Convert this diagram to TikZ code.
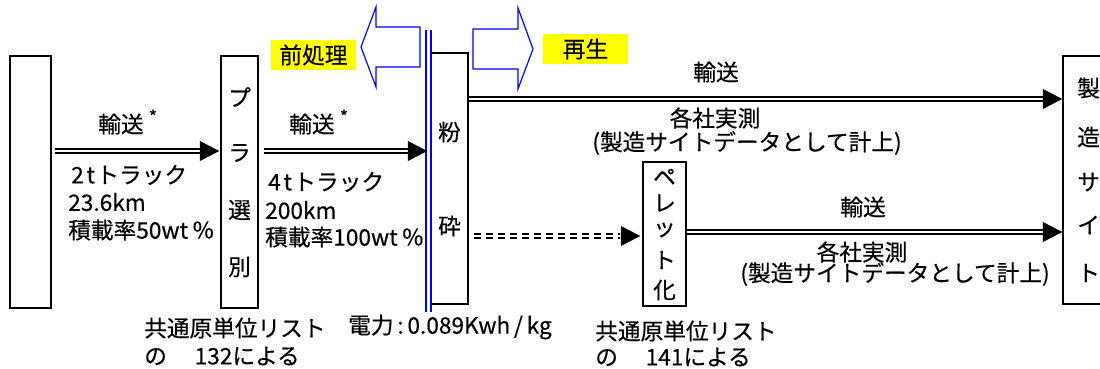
\documentclass[tikz,border=0pt]{standalone}
\usepackage{fontspec}
\setmainfont{Noto Sans CJK JP}[FakeBold=0.4]
\usetikzlibrary{decorations.markings}
\definecolor{hl}{RGB}{255,255,0}
\definecolor{bl}{RGB}{0,0,255}
\begin{document}
\begin{tikzpicture}[x=0.75pt,y=-0.75pt,
  every node/.style={inner sep=0pt, font=\fontsize{17}{20}\selectfont},
  box/.style={draw, line width=1.1pt, inner sep=0pt},
  ch/.style={anchor=center},
  lbl/.style={anchor=west},
  tag/.style={fill=hl, minimum width=63.75pt, minimum height=22.5pt},
  tip/.style={postaction={decorate, decoration={markings,
      mark=at position 1 with {\fill[black] (0,0) -- (-14.5pt,7.5pt) -- (-14.5pt,-7.5pt) -- cycle;}}}},
  dbl/.style={draw, line width=1.4pt, double=white, double distance=1.6pt, shorten >=9pt, tip},
  dbldash/.style={draw, line width=1.6pt, double=white, double distance=1.4pt, dash pattern=on 5.2pt off 3.8pt, shorten >=15pt, tip},
  blueline/.style={draw=bl, line width=1.1pt}
]
\useasboundingbox (0,0) rectangle (1100,368);
\clip (0,0) rectangle (1100,368);

% boxes
\node[box, minimum width=30.75pt, minimum height=189pt] (src) at (30.5,182) {};
\node[box, minimum width=27.75pt, minimum height=189pt] (sel) at (239.5,182) {};
\node[box, minimum width=27.75pt, minimum height=188.25pt] (crush) at (449.5,178.5) {};
\node[box, minimum width=32.25pt, minimum height=108pt] (pel) at (664.5,234) {};
\node[box, minimum width=50.25pt, minimum height=186pt] (site) at (1096.5,180) {};

% box texts
\node[ch] (s1) at (239.5,97) {プ};
\node[ch] (s2) at (239.5,153) {ラ};
\node[ch] (s3) at (239.5,210) {選};
\node[ch] (s4) at (239.5,267) {別};
\node[ch] (c1) at (449.5,132) {粉};
\node[ch] (c2) at (449.5,226) {砕};
\node[ch] (p1) at (664.5,177) {ペ};
\node[ch] (p2) at (664.5,203) {レ};
\node[ch] (p3) at (664.5,230) {ッ};
\node[ch] (p4) at (664.5,260) {ト};
\node[ch] (p5) at (664.5,290) {化};
\node[lbl] (m1) at (1077,88) {製};
\node[lbl] (m2) at (1077,137) {造};
\node[lbl] (m3) at (1077,182) {サ};
\node[lbl] (m4) at (1077,225) {イ};
\node[lbl] (m5) at (1077,273) {ト};

% blue separator and arrows
\draw[blueline] (426,30) -- (426,312);
\draw[blueline] (431,30) -- (431,312);
\draw[draw=bl, line width=0.9pt] (420,27) -- (376,27) -- (376,7) -- (361,47) -- (376,87) -- (376,67) -- (420,67) -- cycle;
\draw[draw=bl, line width=0.9pt] (473,29) -- (518,29) -- (518,8) -- (533,49) -- (518,89) -- (518,69) -- (473,69) -- cycle;
\node[tag] (pre) at (313.5,55) {前処理};
\node[tag] (regen) at (585.5,49) {再生};

% connectors
\draw[dbl] ([xshift=2.25pt]src.east |- 0,151) -- ([xshift=-0.75pt]sel.west |- 0,151);
\draw[dbl] ([xshift=3.75pt]sel.east |- 0,151) -- ([xshift=-2.25pt]crush.west |- 0,151);
\draw[dbl] (crush.east |- 0,99) -- (site.west |- 0,99);
\draw[dbldash] ([xshift=3.75pt]crush.east |- 0,236) -- ([xshift=-1.5pt]pel.west |- 0,236);
\draw[dbl] (pel.east |- 0,232) -- (site.west |- 0,232);

% labels
\node[lbl] (t1) at (98,122) {輸送\hspace{4pt}\raisebox{7pt}{\fontsize{13}{13}\selectfont *}};
\node[lbl] (t1a) at (71,175) {2\hspace{2pt}t\hspace{1pt}トラック};
\node[lbl] (t1b) at (68,202) {23.6km};
\node[lbl] (t1c) at (68,230) {積載率50wt\,％};
\node[lbl] (t2) at (289,122) {輸送\hspace{4pt}\raisebox{7pt}{\fontsize{13}{13}\selectfont *}};
\node[lbl] (t2a) at (268,182) {4\hspace{2pt}t\hspace{1pt}トラック};
\node[lbl] (t2b) at (265,210) {200km};
\node[lbl] (t2c) at (265,237) {積載率100wt\,％};
\node[ch] (t3) at (716,72) {輸送};
\node[ch] (t3a) at (715,118) {各社実測};
\node[ch] (t3b) at (747,143) {(製造サイトデータとして計上)};
\node[ch] (t4) at (863,207) {輸送};
\node[ch] (t4a) at (862,252) {各社実測};
\node[ch] (t4b) at (895,274) {(製造サイトデータとして計上)};
\node[lbl] (pw) at (348,327) {電力\,:\,0.089Kwh\,/\,kg};
\node[lbl] (l1a) at (144,328) {共通原単位リスト};
\node[lbl] (l1b) at (144,356) {の　 132による};
\node[lbl] (l2a) at (595,331) {共通原単位リスト};
\node[lbl] (l2b) at (595,357) {の　 141による};
\end{tikzpicture}
\end{document}
